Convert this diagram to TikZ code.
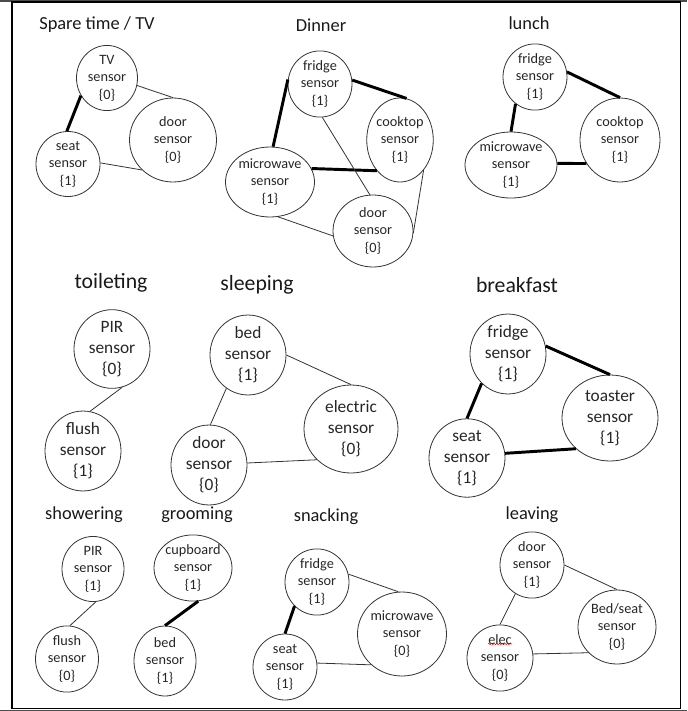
\documentclass[tikz,border=0pt]{standalone}
\usepackage{fontspec}
\setmainfont{Carlito}
\usetikzlibrary{shapes.geometric,decorations.pathmorphing}

\begin{document}
\begin{tikzpicture}[x=0.75pt,y=-0.75pt,
  sensor/.style={ellipse,draw=black!80,line width=0.6pt,inner sep=0pt,align=center,text=black!85,font=\fontsize{10.7}{13.1}\selectfont},
  bigsensor/.style={sensor,font=\fontsize{13}{15.8}\selectfont},
  ell/.style 2 args={minimum width=#1*0.75pt,minimum height=#2*0.75pt},
  title/.style={text=black!90,font=\fontsize{13.8}{16}\selectfont},
  bigtitle/.style={title,font=\fontsize{16.3}{19}\selectfont},
  weak/.style={line width=0.6pt,draw=black!80},
  strong/.style={line width=2.2pt,draw=black}]
\useasboundingbox (0,0) rectangle (687,711);
\fill[black!70] (0,0) rectangle (687,1.5);
\fill[black!70] (0,709.5) rectangle (687,711);
\draw[line width=1pt] (12,2) rectangle (680.5,708.5);

\node[title] (tSpare) at (97,25) {Spare time / TV};
\node[sensor,ell={61}{53}] (tv) at (107,78) {TV\\sensor\\\{0\}};
\node[sensor,ell={87}{84}] (door) at (173,140) {door\\sensor\\\{0\}};
\node[sensor,ell={64}{65}] (seat) at (68,164) {seat\\sensor\\\{1\}};
\draw[strong] (tv.214) -- (seat.92);
\draw[weak] (tv.-14) -- (door.90);
\draw[weak] (seat.2) -- (door.224);

\node[title] (tDinner) at (321,25) {Dinner};
\node[sensor,ell={64}{62}] (fridge) at (320,84) {fridge\\sensor\\\{1\}};
\node[sensor,ell={66}{84}] (cooktop) at (400,140) {cooktop\\sensor\\\{1\}};
\node[sensor,ell={86}{70}] (micro) at (270,182) {microwave\\sensor\\\{1\}};
\node[sensor,ell={80}{72}] (ddoor) at (373,231) {door\\sensor\\\{0\}};
\draw[strong] (fridge.172) -- (micro.85);
\draw[strong] (fridge.7) -- (cooktop.81);
\draw[strong] (micro.18) -- (cooktop.233);
\draw[weak] (fridge.-86) -- (ddoor.95);
\draw[weak] (micro.-77) -- (ddoor.187);
\draw[weak] (cooktop.-52) -- (ddoor.-3);

\node[title] (tLunch) at (529,23) {lunch};
\node[sensor,ell={64}{58}] (lfridge) at (535,77) {fridge\\sensor\\\{1\}};
\node[sensor,ell={80}{84}] (lcooktop) at (620,140) {cooktop\\sensor\\\{1\}};
\node[sensor,ell={92}{60}] (lmicro) at (511,165) {microwave\\sensor\\\{1\}};
\draw[strong] (lfridge.9) -- (lcooktop.90);
\draw[strong] (lfridge.234) -- (lmicro.90);
\draw[strong] (lmicro.2) -- (lcooktop.215);

\node[bigtitle] (tToilet) at (111,283) {toileting};
\node[bigsensor,ell={76}{76}] (tpir) at (112,349) {PIR\\sensor\\\{0\}};
\node[bigsensor,ell={76}{78}] (tflush) at (83,451) {flush\\sensor\\\{1\}};
\draw[weak] (tpir.-75) -- (tflush.80);

\node[bigtitle] (tSleep) at (257,285) {sleeping};
\node[bigsensor,ell={76}{78}] (bed) at (248,355) {bed\\sensor\\\{1\}};
\node[bigsensor,ell={94}{88}] (electric) at (351,429) {electric\\sensor\\\{0\}};
\node[bigsensor,ell={76}{76}] (sdoor) at (209,465) {door\\sensor\\\{0\}};
\draw[weak] (bed.0) -- (electric.90);
\draw[weak] (bed.237) -- (sdoor.88);
\draw[weak] (sdoor.3) -- (electric.222);

\node[bigtitle] (tBreak) at (517,285) {breakfast};
\node[bigsensor,ell={76}{78}] (bfridge) at (508,354) {fridge\\sensor\\\{1\}};
\node[bigsensor,ell={96}{86}] (toaster) at (610,418) {toaster\\sensor\\\{1\}};
\node[bigsensor,ell={76}{68}] (bseat) at (467,458) {seat\\sensor\\\{1\}};
\draw[strong] (bfridge.12) -- (toaster.90);
\draw[strong] (bfridge.228) -- (bseat.90);
\draw[strong] (bseat.7) -- (toaster.222);

\node[title] (tShower) at (84,515) {showering};
\node[sensor,ell={62}{62}] (spir) at (93,569) {PIR\\sensor\\\{1\}};
\node[sensor,ell={63}{66}] (sflush) at (67,659) {flush\\sensor\\\{0\}};
\draw[weak] (spir.-85) -- (sflush.85);

\node[title] (tGroom) at (197,515) {grooming};
\node[sensor,ell={72}{66}] (cup) at (193,568) {cupboard\\sensor\\\{1\}};
\node[sensor,ell={62}{70}] (gbed) at (165,661) {bed\\sensor\\\{1\}};
\draw[strong] (cup.-81) -- (gbed.90);

\node[title] (tSnack) at (326,517) {snacking};
\node[sensor,ell={64}{64}] (nfridge) at (317,582) {fridge\\sensor\\\{1\}};
\node[sensor,ell={80}{84}] (nmicro) at (402,634) {microwave\\sensor\\\{0\}};
\node[sensor,ell={64}{66}] (nseat) at (285,667) {seat\\sensor\\\{1\}};
\draw[weak] (nfridge.14) -- (nmicro.95);
\draw[strong] (nfridge.227) -- (nseat.90);
\draw[weak] (nseat.7) -- (nmicro.225);

\node[title] (tLeave) at (532,515) {leaving};
\node[sensor,ell={64}{64}] (ldoor) at (532,565) {door\\sensor\\\{1\}};
\node[sensor,ell={78}{74}] (lbed) at (617,627) {Bed/seat\\sensor\\\{0\}};
\node[sensor,ell={66}{62}] (lelec) at (500,658) {elec\\sensor\\\{0\}};
\draw[weak] (ldoor.0) -- (lbed.90);
\draw[weak] (ldoor.240) -- (lelec.90);
\draw[weak] (lelec.7) -- (lbed.222);
\draw[red,line width=0.4pt,decorate,decoration={snake,amplitude=0.5pt,segment length=2pt}]
  ([xshift=-9pt,yshift=10.5pt]lelec.center) -- ([xshift=9pt,yshift=10.5pt]lelec.center);
\end{tikzpicture}
\end{document}
